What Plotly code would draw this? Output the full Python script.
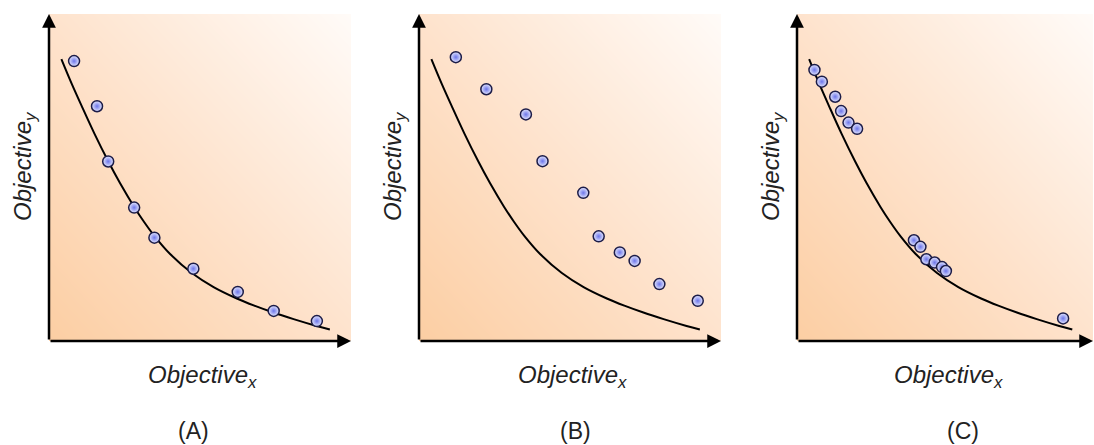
import plotly.graph_objects as go

W, H = 1094, 445

# ---- data (normalized units: 0..100 along each axis) ----
front_x = [4.1, 7.5, 10.9, 15.0, 19.7, 23.5, 28.2, 31.5, 35.0, 40.1, 47.3, 54.5,
           62.2, 68.0, 74.3, 81.0, 88.6, 93.0]
front_y = [86.2, 78.7, 71.7, 63.5, 54.8, 48.3, 41.0, 36.4, 32.0, 26.6, 20.8, 16.5,
           13.0, 10.8, 8.7, 6.7, 4.6, 3.5]

a_x = [8.3, 15.9, 19.6, 28.2, 34.9, 47.8, 62.5, 74.4, 88.7]
a_y = [85.6, 71.8, 54.9, 40.8, 31.6, 22.1, 15.0, 9.2, 6.1]

b_x = [12.2, 22.3, 35.4, 40.9, 54.4, 59.5, 66.5, 71.4, 79.6, 92.3]
b_y = [86.8, 77.0, 69.3, 55.0, 45.3, 32.0, 27.1, 24.5, 17.4, 12.3]

c_x = [5.9, 8.4, 12.9, 14.9, 17.4, 20.3, 39.5, 41.7, 43.7, 46.5, 49.0, 50.3, 89.9]
c_y = [82.9, 79.3, 74.7, 70.3, 66.8, 64.9, 30.8, 28.8, 25.0, 24.0, 22.6, 21.4, 6.9]

panel_labels = ["(A)", "(B)", "(C)"]
x_title = "Objective<sub>x</sub>"
y_title = "Objective<sub>y</sub>"

# ---- layout geometry (pixels) ----
panels = [
    dict(x0=49, x1=351, xs=a_x, ys=a_y, xlab=(202, 376), ylab=(24, 166), plab=(193, 431)),
    dict(x0=419, x1=721, xs=b_x, ys=b_y, xlab=(572, 376), ylab=(394, 166), plab=(575, 431)),
    dict(x0=797, x1=1093, xs=c_x, ys=c_y, xlab=(948, 376), ylab=(772, 166), plab=(963, 431)),
]
y_bot, y_top = 341, 14

fig = go.Figure()
annotations = []
layout_axes = {}
font = "Liberation Sans, Arial, sans-serif"

for i, p in enumerate(panels):
    n = "" if i == 0 else str(i + 1)
    xa, ya = "x" + n, "y" + n
    # gradient background
    fig.add_trace(go.Heatmap(
        x=[0, 100], y=[0, 100], z=[[0, 0.5], [0.5, 1]],
        zsmooth="best", showscale=False, hoverinfo="skip",
        colorscale=[[0, "#fccea3"], [0.5, "#fee3cd"], [1, "#fffbf8"]],
        xaxis=xa, yaxis=ya,
    ))
    # front curve
    fig.add_trace(go.Scatter(
        x=front_x, y=front_y, mode="lines",
        line=dict(color="black", width=2, shape="spline", smoothing=1.0),
        xaxis=xa, yaxis=ya, showlegend=False, hoverinfo="skip",
    ))
    # solution points
    fig.add_trace(go.Scatter(
        x=p["xs"], y=p["ys"], mode="markers",
        marker=dict(size=11, color="#e4e7ff",
                    gradient=dict(type="radial", color="#6d76ea"),
                    line=dict(color="#1c1c48", width=1.5)),
        xaxis=xa, yaxis=ya, showlegend=False, hoverinfo="skip",
    ))
    layout_axes["xaxis" + n] = dict(
        domain=[p["x0"] / W, p["x1"] / W], range=[0, 100],
        showgrid=False, zeroline=False, showticklabels=False, ticks="",
        showline=False, anchor=ya, fixedrange=True,
    )
    layout_axes["yaxis" + n] = dict(
        domain=[(H - y_bot) / H, (H - y_top) / H], range=[0, 100],
        showgrid=False, zeroline=False, showticklabels=False, ticks="",
        showline=False, anchor=xa, fixedrange=True,
    )
    # axis arrows
    for (tx, ty) in [(100, 0), (0, 100)]:
        annotations.append(dict(
            x=tx, y=ty, ax=0, ay=0, xref=xa, yref=ya, axref=xa, ayref=ya,
            showarrow=True, arrowhead=2, arrowsize=1.1, arrowwidth=2.5,
            arrowcolor="black", text="",
        ))
    # axis titles
    annotations.append(dict(
        x=p["xlab"][0] / W, y=1 - p["xlab"][1] / H, xref="paper", yref="paper",
        text="<i>" + x_title + "</i>", showarrow=False,
        font=dict(family=font, size=24, color="#222222"),
        xanchor="center", yanchor="middle",
    ))
    annotations.append(dict(
        x=p["ylab"][0] / W, y=1 - p["ylab"][1] / H, xref="paper", yref="paper",
        text="<i>" + y_title + "</i>", showarrow=False, textangle=-90,
        font=dict(family=font, size=24, color="#222222"),
        xanchor="center", yanchor="middle",
    ))
    annotations.append(dict(
        x=p["plab"][0] / W, y=1 - p["plab"][1] / H, xref="paper", yref="paper",
        text=panel_labels[i], showarrow=False,
        font=dict(family=font, size=23, color="#222222"),
        xanchor="center", yanchor="middle",
    ))

fig.update_layout(
    width=W, height=H, margin=dict(l=0, r=0, t=0, b=0),
    paper_bgcolor="white", plot_bgcolor="rgba(0,0,0,0)",
    showlegend=False, annotations=annotations, **layout_axes,
)

fig.write_html("out.html", config=dict(displayModeBar=False),
               post_script="document.body.style.margin='0';document.body.style.overflow='hidden';")
